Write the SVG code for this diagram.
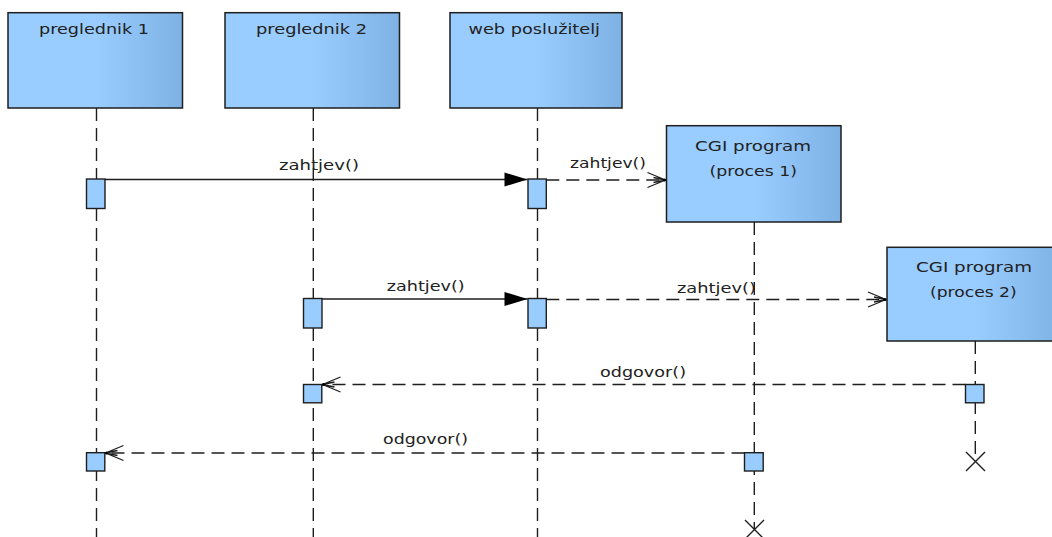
<svg xmlns="http://www.w3.org/2000/svg" width="1052" height="537" viewBox="0 0 1052 537">
<style>
.box{fill:url(#g);stroke:#1e1e1e;stroke-width:1.5}
.act{fill:#99CCFF;stroke:#1e1e1e;stroke-width:1.4}
.life{fill:none;stroke:#1e1e1e;stroke-width:1.4;stroke-dasharray:13 7}
.msg{fill:none;stroke:#1e1e1e;stroke-width:1.4}
.ret{fill:none;stroke:#1e1e1e;stroke-width:1.4;stroke-dasharray:13 7}
.x{fill:none;stroke:#1e1e1e;stroke-width:1.4}
text{font-family:"DejaVu Sans","Liberation Sans",sans-serif;font-size:14px;fill:#222}
</style>
<defs>
<linearGradient id="g" x1="0" y1="0" x2="1" y2="0">
<stop offset="0" stop-color="#99CCFF"/>
<stop offset="0.5" stop-color="#99CCFF"/>
<stop offset="1" stop-color="#7EB2E4"/>
</linearGradient>
<marker id="filled" markerUnits="userSpaceOnUse" viewBox="-24 -8 25 16" markerWidth="25" markerHeight="16" refX="0" refY="0" orient="auto">
<path d="M0,0 L-23,-7 L-23,7 Z" fill="#000"/>
</marker>
<marker id="open" markerUnits="userSpaceOnUse" viewBox="-20 -10 22 20" markerWidth="22" markerHeight="20" refX="0" refY="0" orient="auto">
<path d="M0,0 L-18,-7.5 M0,0 L-18,7.5 M0,0 L-12,-2.5 M0,0 L-12,2.5" fill="none" stroke="#1e1e1e" stroke-width="1.3"/>
<circle cx="-1" cy="0" r="1.6" fill="#000"/>
</marker>
</defs>
<rect width="1052" height="537" fill="#fff"/>

<g id="preglednik1">
<line class="life" x1="96.5" y1="108" x2="96.5" y2="537"/>
<rect class="box" x="8" y="12.7" width="174.5" height="95.3"/>
<text x="39" y="33.5" textLength="110" lengthAdjust="spacingAndGlyphs">preglednik 1</text>
<rect class="act" x="86.5" y="179" width="18.5" height="29.5"/>
<rect class="act" x="86.5" y="452.7" width="18.3" height="18.3"/>
</g>

<g id="preglednik2">
<line class="life" x1="313.3" y1="108" x2="313.3" y2="537"/>
<rect class="box" x="225" y="12.7" width="174.5" height="95.3"/>
<text x="256" y="33.5" textLength="111" lengthAdjust="spacingAndGlyphs">preglednik 2</text>
<rect class="act" x="303.5" y="298.5" width="18.5" height="29.5"/>
<rect class="act" x="303.5" y="384.5" width="18.3" height="18.3"/>
</g>

<g id="webposluzitelj">
<line class="life" x1="537.5" y1="108" x2="537.5" y2="537"/>
<rect class="box" x="450" y="12.7" width="172" height="95.3"/>
<text x="468.5" y="33.5" textLength="131.5" lengthAdjust="spacingAndGlyphs">web poslužitelj</text>
<rect class="act" x="528" y="179" width="18.3" height="29.5"/>
<rect class="act" x="528" y="298.5" width="18.3" height="29.5"/>
</g>

<g id="cgi1">
<line class="life" x1="754.3" y1="222" x2="754.3" y2="529"/>
<rect class="box" x="666.5" y="125.7" width="174.5" height="96.3"/>
<text x="695" y="151" textLength="116" lengthAdjust="spacingAndGlyphs">CGI program</text>
<text x="709.5" y="176" textLength="87.5" lengthAdjust="spacingAndGlyphs">(proces 1)</text>
<rect class="act" x="744.5" y="452.7" width="18.7" height="18.3"/>
<path class="x" d="M745,520 L764,539 M764,520 L745,539"/>
</g>

<g id="cgi2">
<line class="life" x1="975.3" y1="341" x2="975.3" y2="461"/>
<rect class="box" x="887" y="247.3" width="176" height="93.7"/>
<text x="916" y="272" textLength="116" lengthAdjust="spacingAndGlyphs">CGI program</text>
<text x="930" y="297" textLength="86.7" lengthAdjust="spacingAndGlyphs">(proces 2)</text>
<rect class="act" x="965.5" y="384.5" width="18.5" height="18.3"/>
<path class="x" d="M966,452 L985,471 M985,452 L966,471"/>
</g>

<g id="connectors">
<line class="msg" x1="105" y1="179.5" x2="527.5" y2="179.5" marker-end="url(#filled)"/>
<text x="279" y="170" textLength="80" lengthAdjust="spacingAndGlyphs">zahtjev()</text>
<line class="ret" x1="546.3" y1="180" x2="665.5" y2="180" marker-end="url(#open)"/>
<text x="570" y="168" textLength="76" lengthAdjust="spacingAndGlyphs">zahtjev()</text>
<line class="msg" x1="322" y1="299" x2="527.5" y2="299" marker-end="url(#filled)"/>
<text x="386.7" y="290.5" textLength="78" lengthAdjust="spacingAndGlyphs">zahtjev()</text>
<line class="ret" x1="546.3" y1="299.5" x2="886" y2="299.5" marker-end="url(#open)"/>
<text x="677" y="293" textLength="79" lengthAdjust="spacingAndGlyphs">zahtjev()</text>
<line class="ret" x1="965.5" y1="384.5" x2="322.5" y2="384.5" marker-end="url(#open)"/>
<text x="600" y="376.5" textLength="86" lengthAdjust="spacingAndGlyphs">odgovor()</text>
<line class="ret" x1="744.5" y1="453" x2="105.5" y2="453" marker-end="url(#open)"/>
<text x="383" y="443.5" textLength="85" lengthAdjust="spacingAndGlyphs">odgovor()</text>
</g>
</svg>
